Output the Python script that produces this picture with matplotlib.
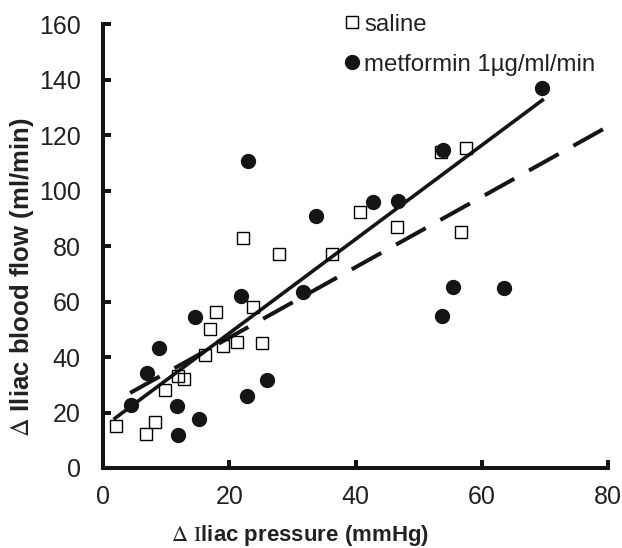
import numpy as np
import matplotlib
matplotlib.use('Agg')
import matplotlib.pyplot as plt

plt.rcParams['font.family'] = ['Liberation Sans', 'DejaVu Sans']
plt.rcParams['mathtext.fontset'] = 'stix'

# saline (open squares)
saline_x = [2.1, 6.8, 8.3, 9.8, 11.8, 12.9, 16.1, 16.9, 17.9, 19.0, 21.3,
            22.2, 23.7, 25.2, 27.8, 36.2, 40.7, 46.6, 56.7, 53.6, 57.5]
saline_y = [15.1, 12.1, 16.5, 28.1, 33.3, 32.1, 40.7, 50.1, 56.1, 43.9, 45.5,
            82.8, 58.1, 45.2, 77.1, 77.1, 92.1, 87.0, 84.9, 114.0, 115.2]

# metformin (filled circles)
metf_x = [4.4, 6.9, 8.9, 11.7, 11.8, 14.6, 15.2, 21.8, 22.8, 25.9, 31.6,
          22.9, 33.7, 42.7, 46.8, 53.9, 69.6, 55.4, 63.5, 53.7]
metf_y = [22.7, 34.1, 43.4, 22.3, 11.9, 54.5, 17.7, 62.1, 26.1, 31.7, 63.3,
          110.6, 90.9, 96.0, 96.2, 114.8, 136.8, 65.1, 64.7, 54.9]

# fitted lines: slope, intercept, x range
solid_fit = (1.694, 14.7)
solid_range = [1.9, 69.6]
dashed_fit = (1.269, 21.6)
dashed_range = [4.3, 80.0]

fig = plt.figure(figsize=(6.22, 5.48), dpi=100)
ax = fig.add_axes([0.1656, 0.146, 0.812, 0.81])

ax.plot(saline_x, saline_y, 's', ms=9, mfc='none', mec='black', mew=1.0,
        label='saline', zorder=3)
ax.plot(metf_x, metf_y, 'o', ms=10, mfc='#151515', mec='#151515',
        label='metformin 1\u00b5g/ml/min', zorder=4)

xs = np.array(solid_range)
ax.plot(xs, solid_fit[0] * xs + solid_fit[1], '-', color='#151515', lw=2.6,
        zorder=2)
xd = np.array(dashed_range)
ax.plot(xd, dashed_fit[0] * xd + dashed_fit[1], color='#151515', lw=2.9,
        dashes=(8.4, 4.2), zorder=2)

ax.set_xlim(0, 80)
ax.set_ylim(0, 160)
ax.set_xticks([0, 20, 40, 60, 80])
ax.set_yticks([0, 20, 40, 60, 80, 100, 120, 140, 160])

for s in ['top', 'right']:
    ax.spines[s].set_visible(False)
for s in ['left', 'bottom']:
    ax.spines[s].set_linewidth(2.9)
    ax.spines[s].set_color('#151515')

ax.tick_params(direction='in', length=6, width=2.9, color='#151515',
               labelsize=18, labelcolor='#222222')
ax.tick_params(axis='y', pad=16)
ax.tick_params(axis='x', pad=12)

ax.set_xlabel(r'$\Delta$ $\mathrm{I}$liac pressure (mmHg)', fontsize=16,
              fontweight='bold', color='#222222', va='center')
ax.set_ylabel(r'$\Delta$ Iliac blood flow (ml/min)', fontsize=18.5,
              fontweight='bold', color='#222222')
ax.xaxis.set_label_coords(0.39, -0.152)
ax.yaxis.set_label_coords(-0.133, 0.43)

leg = ax.legend(loc='upper left', bbox_to_anchor=(0.46, 1.045), frameon=False,
                fontsize=17.3, handlelength=0.6, handletextpad=0.2,
                labelspacing=0.75, borderaxespad=0)
for t in leg.get_texts():
    t.set_color('#222222')

fig.savefig('out.png', dpi=100)
